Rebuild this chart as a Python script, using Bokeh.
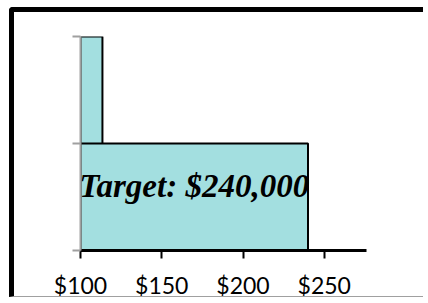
from bokeh.plotting import figure
from bokeh.models import Range1d, FixedTicker, ColumnDataSource
from bokeh.core.properties import value
from bokeh.embed import file_html
from bokeh.resources import INLINE

# ---- data ----
bin_left = [100, 100]
bin_right = [113.5, 240]
counts = [2, 1]
target = 240
target_label = "Target: $240,000"
x_ticks = [100, 150, 200, 250]
x_tick_labels = ["$100", "$150", "$200", "$250"]
y_ticks = [0, 1, 2]

p = figure(width=414, height=290,
           x_range=Range1d(100, 276), y_range=Range1d(0, 2),
           output_backend="svg", toolbar_location=None,
           min_border_left=66, min_border_right=62,
           min_border_top=24, min_border_bottom=52)
p.styles = {
    "margin-left": "9px",
    "margin-top": "7px",
    "margin-bottom": "-8px",
    "border-left": "5px solid black",
    "border-top": "5px solid black",
    "border-bottom": "1px solid #a0a0a0",
    "border-top-left-radius": "4px",
}
p.outline_line_color = None
p.background_fill_color = "white"
p.border_fill_color = "white"
p.xgrid.visible = False
p.ygrid.visible = False

src = ColumnDataSource(dict(left=bin_left, right=bin_right,
                            bottom=[0] * len(counts), top=counts))
p.quad(left="left", right="right", bottom="bottom", top="top", source=src,
       fill_color="#a3dfe0", line_color="black", line_width=2)

p.text(x=[(bin_left[1] + target) / 2], y=[counts[1] / 2], text=[target_label],
       text_font=value("Liberation Serif"), text_font_style="bold italic",
       text_font_size="33px", text_align="center", text_baseline="middle",
       text_color="black", y_offset=-11)

xa = p.xaxis[0]
xa.ticker = FixedTicker(ticks=x_ticks)
xa.major_label_overrides = {t: l for t, l in zip(x_ticks, x_tick_labels)}
xa.axis_line_color = "black"
xa.axis_line_width = 3
xa.major_tick_line_color = "black"
xa.major_tick_line_width = 2
xa.major_tick_out = 8
xa.major_tick_in = 0
xa.minor_tick_line_color = None
xa.major_label_text_font = "Lato"
xa.major_label_text_font_size = "23px"
xa.major_label_text_color = "black"
xa.major_label_standoff = 12

ya = p.yaxis[0]
ya.ticker = FixedTicker(ticks=y_ticks)
ya.major_label_overrides = {t: "" for t in y_ticks}
ya.axis_line_color = "#a0a0a0"
ya.axis_line_width = 2
ya.major_tick_line_color = "#a0a0a0"
ya.major_tick_line_width = 2
ya.major_tick_out = 8
ya.major_tick_in = 0
ya.minor_tick_line_color = None

open("out.html", "w").write(file_html(p, INLINE))
